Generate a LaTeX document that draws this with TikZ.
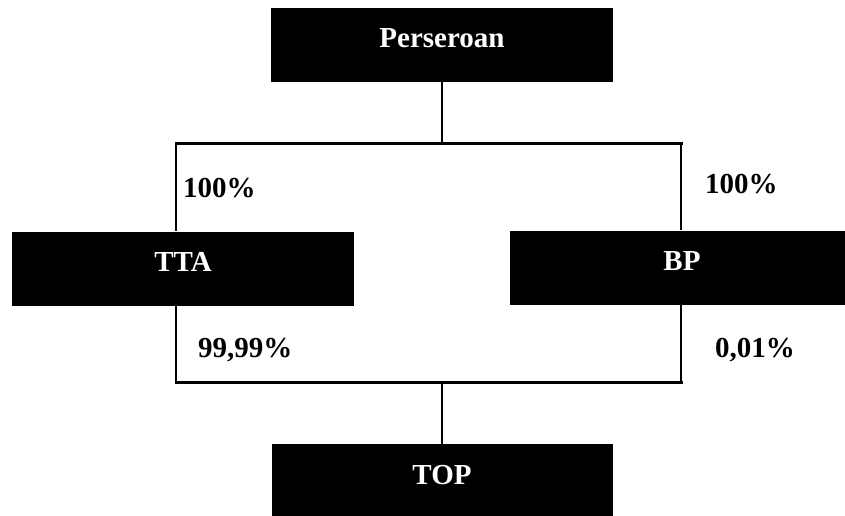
\documentclass[tikz,border=0pt]{standalone}
\usepackage{fontspec}
\setmainfont{Liberation Serif}
\usetikzlibrary{positioning}

\begin{document}
\begin{tikzpicture}[
    x=1pt, y=-1pt,
    font={\fontsize{29}{34}\selectfont\bfseries},
    box/.style={fill=black,text=white,inner sep=0pt,minimum height=74pt,
                text height=20pt,text depth=14pt},
    pct/.style={inner sep=0pt,anchor=base west},
    vline/.style={line width=2pt},
    hline/.style={line width=3pt,line cap=rect},
]
    \useasboundingbox (0,0) rectangle (845,516);

    \node[box,minimum width=342pt] (pers) at (442,45)    {Perseroan};
    \node[box,minimum width=342pt] (tta)  at (183,268.5) {TTA};
    \node[box,minimum width=344pt] (bp)   at (682,267.5) {BP};
    \node[box,minimum width=341pt] (top)  at (442,481)   {TOP};

    \coordinate (tl) at (176,143);
    \coordinate (tr) at (681,143);
    \coordinate (bl) at (176,382);
    \coordinate (br) at (681,382);

    \draw[vline] (pers.south) -- (pers.south |- tl);
    \draw[hline] (tl) -- (tr);
    \draw[vline] (tl) -- (tl |- tta.north);
    \draw[vline] (tr) -- (tr |- bp.north);

    \draw[vline] (tl |- tta.south) -- (bl);
    \draw[vline] (tr |- bp.south) -- (br);
    \draw[hline] (bl) -- (br);
    \draw[vline] (top.north) -- (top.north |- bl);

    \node[pct] (ptta) at (183,197) {100\%};
    \node[pct] (pbp)  at (705,193) {100\%};
    \node[pct] (qtta) at (198,357) {99,99\%};
    \node[pct] (qbp)  at (715,357) {0,01\%};

\end{tikzpicture}
\end{document}
